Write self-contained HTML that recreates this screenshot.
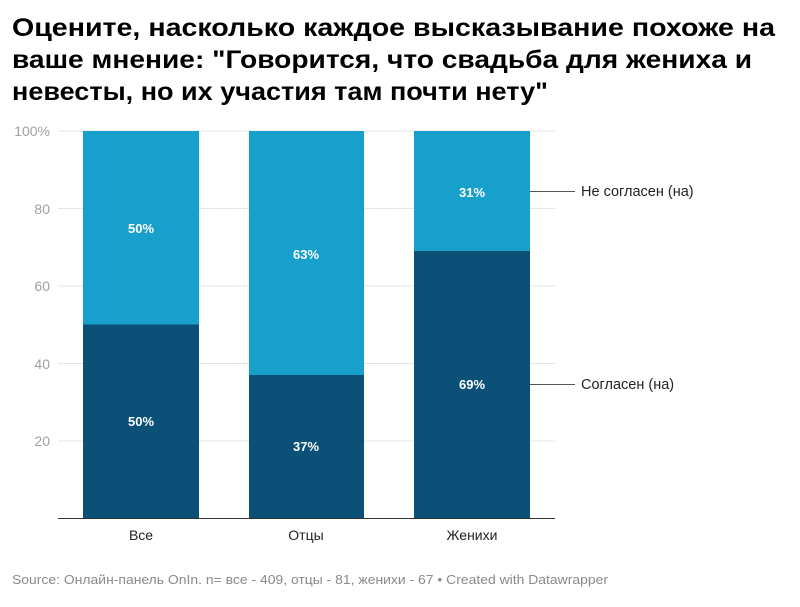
<!DOCTYPE html>
<html><head><meta charset="utf-8"><style>
body{margin:0;background:#fff;width:800px;height:602px;overflow:hidden;font-family:"Liberation Sans",sans-serif}
</style></head><body>
<svg width="800" height="602" xmlns="http://www.w3.org/2000/svg" font-family="Liberation Sans, sans-serif">
<g font-size="25" font-weight="bold" fill="#000">
<text x="12" y="36" textLength="763" lengthAdjust="spacingAndGlyphs">Оцените, насколько каждое высказывание похоже на</text>
<text x="12" y="68" textLength="740" lengthAdjust="spacingAndGlyphs">ваше мнение: "Говорится, что свадьба для жениха и</text>
<text x="12" y="100" textLength="536" lengthAdjust="spacingAndGlyphs">невесты, но их участия там почти нету"</text>
</g>
<g stroke="#e6e6e6" stroke-width="1">
<line x1="58" x2="555" y1="131" y2="131"/>
<line x1="58" x2="555" y1="208.5" y2="208.5"/>
<line x1="58" x2="555" y1="286" y2="286"/>
<line x1="58" x2="555" y1="363.5" y2="363.5"/>
<line x1="58" x2="555" y1="441" y2="441"/>
</g>
<g fill="#a0a0a0" font-size="14" text-anchor="end">
<text x="50" y="136">100%</text>
<text x="50" y="214">80</text>
<text x="50" y="291">60</text>
<text x="50" y="369">40</text>
<text x="50" y="446">20</text>
</g>
<rect x="83" y="131" width="116" height="193.5" fill="#18a0cd"/>
<rect x="83" y="324.5" width="116" height="193.5" fill="#0a5077"/>
<rect x="249" y="131" width="115" height="244" fill="#18a0cd"/>
<rect x="249" y="375" width="115" height="143" fill="#0a5077"/>
<rect x="414" y="131" width="116" height="120" fill="#18a0cd"/>
<rect x="414" y="251" width="116" height="267" fill="#0a5077"/>
<line x1="58" x2="555" y1="518.5" y2="518.5" stroke="#333" stroke-width="1"/>
<g fill="#fff" font-size="13" font-weight="bold" text-anchor="middle">
<text x="141" y="233">50%</text>
<text x="141" y="426">50%</text>
<text x="306" y="259">63%</text>
<text x="306" y="451">37%</text>
<text x="472" y="197">31%</text>
<text x="472" y="389">69%</text>
</g>
<g fill="#222" font-size="14" text-anchor="middle">
<text x="141" y="540">Все</text>
<text x="306" y="540">Отцы</text>
<text x="472" y="540">Женихи</text>
</g>
<g stroke="#555" stroke-width="1">
<line x1="530" x2="575" y1="191.5" y2="191.5"/>
<line x1="530" x2="575" y1="384.5" y2="384.5"/>
</g>
<g fill="#222" font-size="14.5">
<text x="581" y="196">Не согласен (на)</text>
<text x="581" y="389">Согласен (на)</text>
</g>
<text x="12" y="584" fill="#8a8a8a" font-size="12.5" textLength="596" lengthAdjust="spacingAndGlyphs">Source: Онлайн-панель OnIn. n= все - 409, отцы - 81, женихи - 67 • Created with Datawrapper</text>
</svg>
</body></html>
